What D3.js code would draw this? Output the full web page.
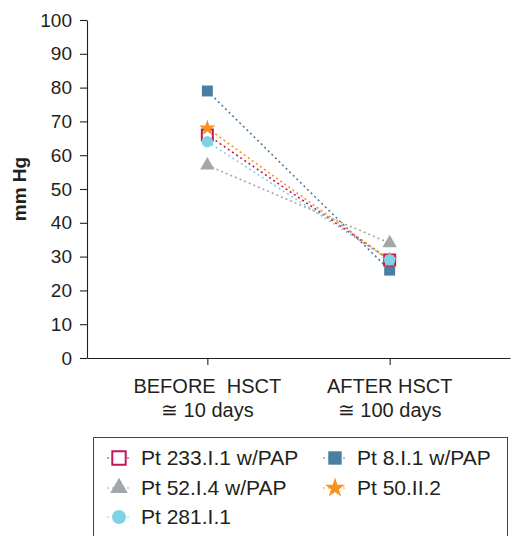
<!DOCTYPE html>
<html>
<head>
<meta charset="utf-8">
<script src="https://cdn.jsdelivr.net/npm/d3@7"></script>
<style>
  body { margin: 0; background: #fff; }
  text { font-family: "Liberation Sans", Arial, Helvetica, sans-serif; fill: #231f20; }
</style>
</head>
<body>
<script>
var w = 511;
var h = 536;

// data
var timepoints = ["BEFORE  HSCT", "AFTER HSCT"];
var timepointSub = ["\u2245 10 days", "\u2245 100 days"];
var yTicks = [0, 10, 20, 30, 40, 50, 60, 70, 80, 90, 100];

var names = ["Pt 233.I.1 w/PAP", "Pt 8.I.1 w/PAP", "Pt 52.I.4 w/PAP", "Pt 50.II.2", "Pt 281.I.1"];
var pt233 = [66, 29];
var pt8 = [79, 26];
var pt52 = [57, 34];
var pt50 = [68, 29];
var pt281 = [64, 29];

var colors = ["#c2185b", "#4a7fa3", "#a2a7aa", "#f7931e", "#7fd1e6"];
var shapes = ["squareOpen", "square", "triangle", "star", "circle"];
var seriesValues = [pt233, pt8, pt52, pt50, pt281];

var series = names.map(function(n, i){
    return {name: n, values: seriesValues[i], color: colors[i], shape: shapes[i]};
});

var svg = d3.select("body")
            .append("svg")
            .attr("width", w)
            .attr("height", h);

var mLeft = 87, mRight = 510, mTop = 20, mBottom = 358;

var x = d3.scalePoint()
          .domain(timepoints)
          .range([mLeft, mRight])
          .padding(0.66);

var y = d3.scaleLinear()
          .domain([0, 100])
          .range([mBottom, mTop]);

// y axis
var yAxis = svg.append("g")
    .attr("transform", "translate(" + mLeft + ",0)")
    .call(d3.axisLeft(y).tickValues(yTicks).tickSize(7).tickSizeOuter(0).tickPadding(8));
yAxis.selectAll("text").style("font-size", "19px");

// x axis
var xAxis = svg.append("g")
    .attr("transform", "translate(0," + mBottom + ")")
    .call(d3.axisBottom(x).tickSize(7).tickSizeOuter(0));
xAxis.selectAll("text").remove();
svg.selectAll(".domain, .tick line").attr("stroke", "#231f20").attr("stroke-width", 1.1);

// two-line x labels
var xl = svg.append("g");
timepoints.forEach(function(t, i){
    xl.append("text")
      .attr("x", x(t)).attr("y", 393)
      .attr("text-anchor", "middle")
      .style("font-size", "20px")
      .style("white-space", "pre")
      .attr("xml:space", "preserve")
      .text(t);
    xl.append("text")
      .attr("x", x(t)).attr("y", 417)
      .attr("text-anchor", "middle")
      .style("font-size", "20px")
      .text(timepointSub[i]);
});

// y label
svg.append("text")
   .attr("transform", "translate(26,189) rotate(-90)")
   .attr("text-anchor", "middle")
   .style("font-size", "19px")
   .style("font-weight", "bold")
   .text("mm Hg");

function symbolFor(shape, size){
    if (shape == "triangle") return d3.symbol().type(d3.symbolTriangle).size(size * 0.75)();
    if (shape == "star") return d3.symbol().type(d3.symbolStar).size(size * 0.7)();
    if (shape == "circle") return d3.symbol().type(d3.symbolCircle).size(size * 0.85)();
    return d3.symbol().type(d3.symbolSquare).size(size)();
}

function drawMarker(g, s, size){
    var p = g.append("path").attr("d", symbolFor(s.shape, size));
    if (s.shape == "squareOpen") {
        p.attr("fill", "#fff").attr("stroke", s.color).attr("stroke-width", 2);
    } else {
        p.attr("fill", s.color);
    }
}

var line = d3.line()
    .x(function(d, i){ return x(timepoints[i]); })
    .y(function(d){ return y(d); });

// dotted lines
svg.selectAll(".serie")
   .data(series)
   .enter()
   .append("path")
   .attr("d", function(d){ return line(d.values); })
   .attr("fill", "none")
   .attr("stroke", function(d){ return d.color; })
   .attr("stroke-width", 1.6)
   .attr("stroke-dasharray", "2,3");

// markers, drawn in the stacking order seen in the picture
var order = [1, 2, 0, 3, 4];
order.forEach(function(k){
    var s = series[k];
    s.values.forEach(function(v, i){
        var g = svg.append("g")
                   .attr("transform", "translate(" + x(timepoints[i]) + "," + y(v) + ")");
        drawMarker(g, s, 120);
    });
});

// legend
svg.append("rect")
   .attr("x", 93.5).attr("y", 437.5)
   .attr("width", 414).attr("height", 110)
   .attr("fill", "none")
   .attr("stroke", "#444")
   .attr("stroke-width", 1);

var legPos = [[119, 458], [335, 458], [119, 488], [335, 488], [119, 517]];
series.forEach(function(s, i){
    var g = svg.append("g")
               .attr("transform", "translate(" + legPos[i][0] + "," + legPos[i][1] + ")");
    g.append("line")
     .attr("x1", -12).attr("x2", 12)
     .attr("stroke", s.color)
     .attr("stroke-width", 1.2)
     .attr("stroke-dasharray", "2,3");
    drawMarker(g, s, 180);
    g.append("text")
     .attr("x", 22).attr("y", 7)
     .style("font-size", "21px")
     .text(s.name);
});
</script>
</body>
</html>
